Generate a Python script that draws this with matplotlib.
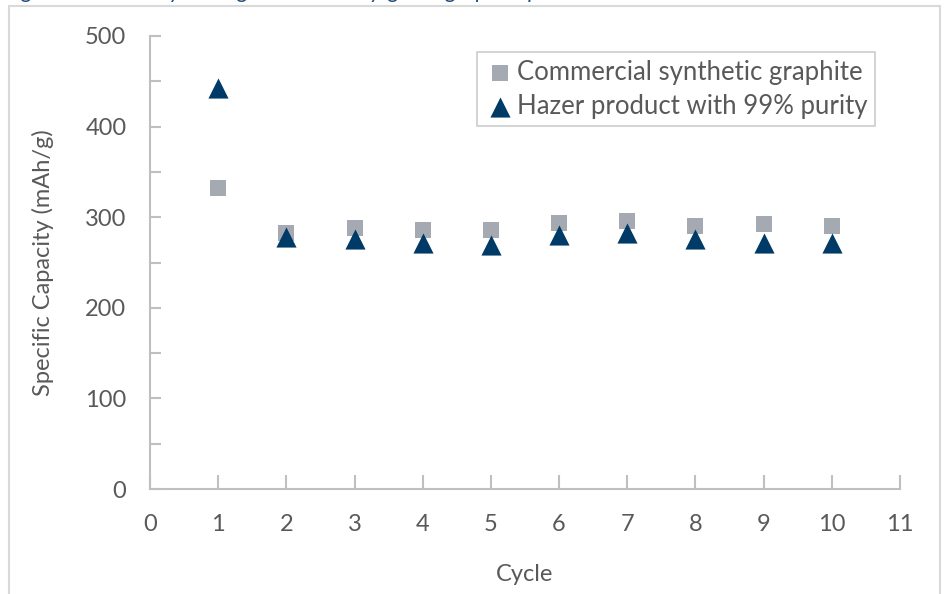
import matplotlib
matplotlib.use("Agg")
import matplotlib.pyplot as plt
from matplotlib.patches import Rectangle
from matplotlib.ticker import MultipleLocator

plt.rcParams['font.family'] = ['Lato', 'DejaVu Sans']

cycles = [1, 2, 3, 4, 5, 6, 7, 8, 9, 10]
commercial = [332, 283, 288, 286, 286, 294, 296, 290, 292, 290]
hazer = [443, 278, 276, 272, 269, 280, 283, 276, 272, 272]
series_names = ["Commercial synthetic graphite", "Hazer product with 99% purity"]
x_label = "Cycle"
y_label = "Specific Capacity (mAh/g)"
caption = "Figure 12: Stability testing of the battery-grade graphite product"

text_col = "#595959"
axis_col = "#BFBFBF"

fig = plt.figure(figsize=(9.47, 5.94), dpi=100)

# outer chart frame
fig.patches.append(Rectangle((9/947, -0.05), (940-9)/947, 1.05 - 6/594,
                             transform=fig.transFigure, fill=False,
                             edgecolor="#D9D9D9", linewidth=1.5))
# caption of the page, mostly cut off at the top edge
fig.text(5/947, 1 + 1.5/594, caption, ha='left', va='baseline', fontsize=16,
         style='italic', color="#1F4E79")

ax = fig.add_axes([150/947, 1-489/594, 750/947, (489-36)/594])
ax.scatter(cycles, commercial, marker='s', s=120, color="#A5A9B2",
           label=series_names[0], zorder=3, linewidths=0)
ax.scatter(cycles, hazer, marker='^', s=210, color="#003A66",
           label=series_names[1], zorder=4, linewidths=0)

ax.set_xlim(0, 11)
ax.set_ylim(0, 500)
ax.xaxis.set_major_locator(MultipleLocator(1))
ax.yaxis.set_major_locator(MultipleLocator(100))
ax.yaxis.set_minor_locator(MultipleLocator(50))

for s in ['top', 'right']:
    ax.spines[s].set_visible(False)
for s in ['left', 'bottom']:
    ax.spines[s].set_color(axis_col)
    ax.spines[s].set_linewidth(1.5)

ax.tick_params(axis='x', direction='in', length=10, width=1.5, color=axis_col,
               labelsize=17, labelcolor=text_col, pad=18)
ax.tick_params(axis='y', which='both', direction='in', length=8, width=1.5,
               color=axis_col, labelsize=17, labelcolor=text_col, pad=17)

ax.set_xlabel(x_label, fontsize=17, color=text_col, labelpad=21)
ax.set_ylabel(y_label, fontsize=17, color=text_col, labelpad=22)

leg = ax.legend(loc='upper right', bbox_to_anchor=(875/947, 1-52/594),
                bbox_transform=fig.transFigure, fontsize=18.5,
                frameon=True, fancybox=False, edgecolor="#BFBFBF",
                handletextpad=0.05, borderpad=0.3, labelspacing=0.35,
                handlelength=1.2, borderaxespad=0)
leg.get_frame().set_linewidth(1.2)
for t in leg.get_texts():
    t.set_color(text_col)

fig.savefig("out.png", dpi=100)
